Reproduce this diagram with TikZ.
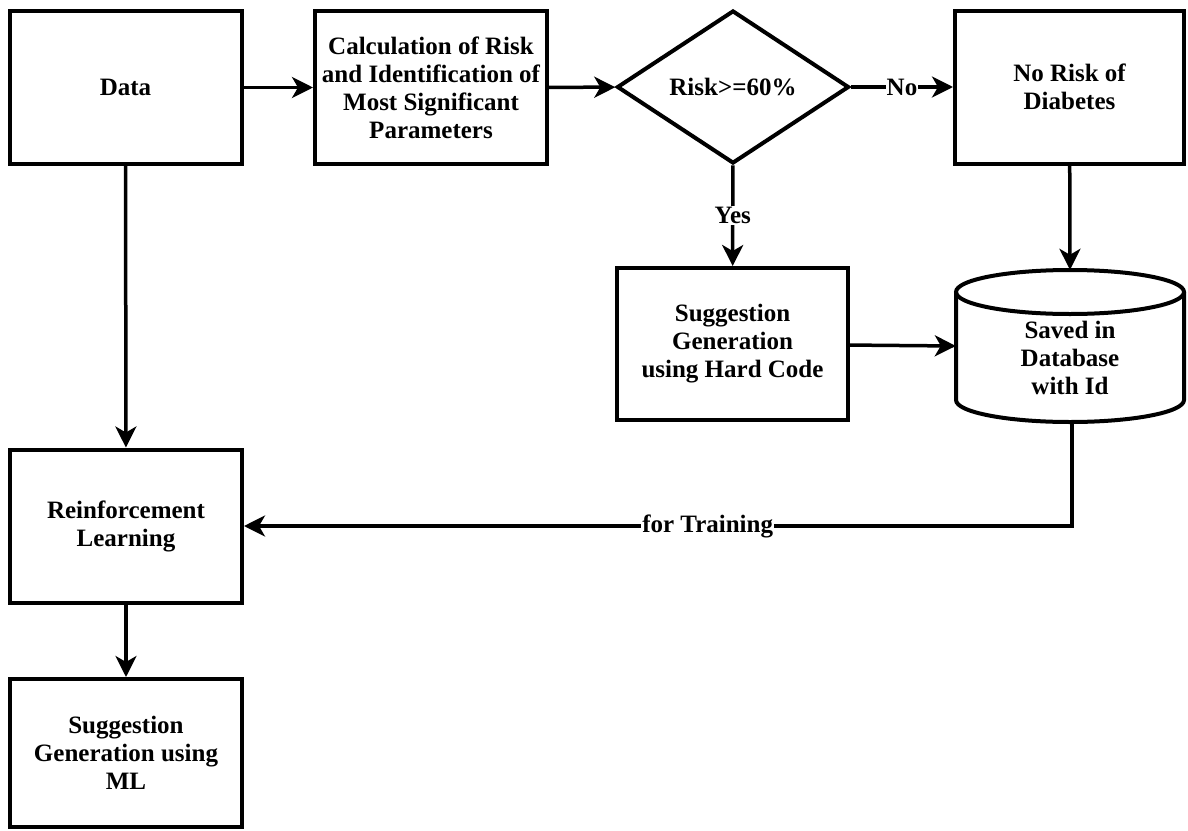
\documentclass[tikz,border=0pt]{standalone}
\usepackage{fontspec}
\setmainfont{Liberation Serif}[BoldFont={Liberation Serif Bold}]
\usetikzlibrary{arrows.meta,shapes.geometric}
\begin{document}
\begin{tikzpicture}[x=1pt,y=-1pt,
  every node/.style={font=\bfseries\fontsize{25}{28}\selectfont, align=center},
  box/.style={draw, line width=4pt, inner sep=0pt, minimum width=232pt, minimum height=153pt},
  conn/.style={line width=3.5pt, -{Stealth[length=21pt,width=21pt,inset=6pt]}},
  lbl/.style={fill=white, inner sep=1pt},
  plain/.style={line width=3.5pt}
]
\useasboundingbox (0,0) rectangle (1188,830);

\node[box] (data) at (125.5,87.5) {Data};
\node[box] (calc) at (431,87.5) {Calculation of Risk\\and Identification of\\Most Significant\\Parameters};
\node[diamond, draw, line width=4pt, inner sep=0pt, aspect=1.5,
      minimum width=232pt, minimum height=153pt] (dec) at (733,87) {Risk>=60\%};
\node[box, minimum width=229pt] (norisk) at (1069.5,87) {No Risk of\\Diabetes};
\node[box, minimum width=231pt, minimum height=152pt] (hard) at (732.5,344) {Suggestion\\Generation\\using Hard Code};

% database cylinder
\node[minimum width=228pt, minimum height=152pt, inner sep=0pt] (db) at (1070,346) {};
\draw[line width=4pt] (1070,292) ellipse [x radius=114pt, y radius=22pt];
\draw[line width=4pt] (956,292) -- (956,400)
   arc[start angle=180, end angle=360, x radius=114pt, y radius=22pt] -- (1184,292);
\node (dbtext) at (1070,358) {Saved in\\Database\\with Id};

\node[box] (rl) at (126,526) {Reinforcement\\Learning};
\node[box, minimum height=148pt] (ml) at (126,753) {Suggestion\\Generation using\\ML};

% connectors
\draw[conn] (data) -- (calc);
\draw[conn] (calc) -- (dec);
\draw[conn] (dec) -- node[lbl] {No} (norisk);
\draw[conn] (dec) -- node[lbl] {Yes} (hard);
\draw[conn] (norisk) -- (db.north);
\draw[conn] (hard) -- (db.west);
\draw[conn] (data) -- (rl);
\draw[conn] (rl) -- (ml);
\coordinate (bend) at (1072,526);
\draw[conn] (1072,422) -- (bend) -- node[lbl, pos=0.44] {for Training} (rl.east);
\end{tikzpicture}
\end{document}
